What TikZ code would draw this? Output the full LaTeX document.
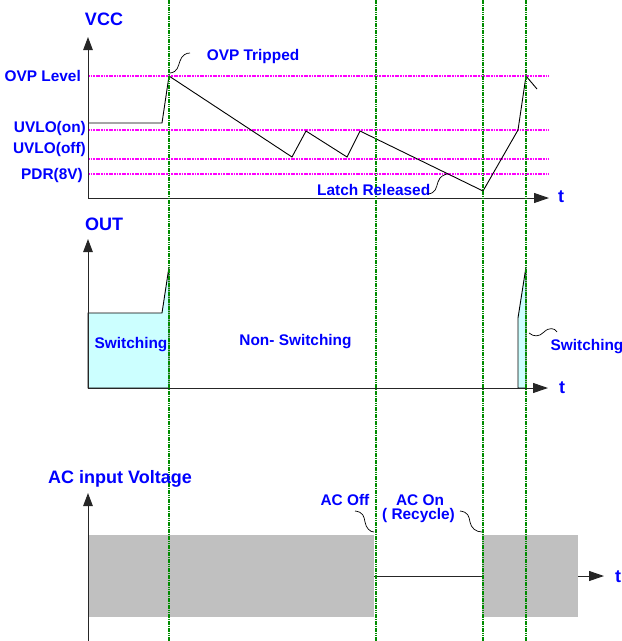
\documentclass[tikz,border=0pt]{standalone}
\usepackage{fontspec}
\setmainfont{Liberation Sans}
\usetikzlibrary{arrows.meta}
\definecolor{acgray}{RGB}{192,192,192}
\definecolor{swcyan}{RGB}{204,255,255}
\definecolor{tgreen}{RGB}{0,140,0}
\definecolor{lvlmag}{RGB}{255,0,255}
\definecolor{txtblue}{RGB}{0,0,255}
\begin{document}
\begin{tikzpicture}[x=1pt,y=-1pt,
  lbl/.style={font=\bfseries\fontsize{15.4}{15.4}\selectfont, text=txtblue, inner sep=0pt},
  ttl/.style={font=\bfseries\fontsize{18}{18}\selectfont, text=txtblue, inner sep=0pt},
  axisv/.style={draw=black!85, line width=1pt, -{Triangle[length=13pt,width=9.5pt]}},
  axish/.style={draw=black!85, line width=1pt, -{Triangle[length=15pt,width=10pt]}},
  lvl/.style={draw=lvlmag, line width=2.4pt, dash pattern=on 1.8pt off 0.8pt},
  tline/.style={draw=tgreen, line width=1.6pt, dash pattern=on 1.6pt off 0.7pt},
  sig/.style={draw=black, line width=0.9pt},
  callout/.style={draw=black, line width=0.7pt},
  swfill/.style={fill=swcyan, draw=black, line width=0.9pt},
  acfill/.style={fill=acgray, draw=none}
]
\useasboundingbox (0,0) rectangle (622,641);

% AC input blocks
\path[acfill] (88,535) rectangle (374,617);
\path[acfill] (482,535) rectangle (578,617);

% OUT switching areas
\draw[swfill] (88,388) -- (88,313) -- (162,313) -- (169,267) -- (169,388) -- cycle;
\draw[swfill] (518,388) -- (518,318) -- (526,267) -- (526,388) -- cycle;

% level lines
\draw[lvl] (88,76) -- (549,76);
\draw[lvl] (88,130) -- (549,130);
\draw[lvl] (88,159) -- (549,159);
\draw[lvl] (88,174) -- (549,174);

% VCC waveform
\draw[sig] (88,123) -- (162,123) -- (169,76) -- (292,157) -- (306,131) -- (347,157)
  -- (360,131) -- (483,191) -- (518,130) -- (526,76) -- (537,89);

% axes
\draw[axisv] (88,198) -- (88,37);
\draw[axish] (88,198) -- (549,198);
\draw[axisv] (88,388) -- (88,239);
\draw[axish] (88,388) -- (548,388);
\draw[axisv] (88,641) -- (88,493);
\draw[draw=black!85, line width=1pt] (374,576) -- (482,576);
\draw[axish] (578,576) -- (604,576);

% time markers
\foreach \xx in {169,376,483,526} \draw[tline] (\xx,0) -- (\xx,641);

% labels
\node[ttl, anchor=base] (vcc) at (104,25) {VCC};
\node[lbl, anchor=base east] (ovpl) at (81,81) {OVP Level};
\node[lbl, anchor=base east] (uvon) at (86,132) {UVLO(on)};
\node[lbl, anchor=base east] (uvoff) at (86,153) {UVLO(off)};
\node[lbl, anchor=base east] (pdr) at (83,179) {PDR(8V)};
\node[lbl, anchor=base] (ovpt) at (253,60) {OVP Tripped};
\node[lbl, anchor=base west] (latch) at (317,195) {Latch Released};
\node[ttl, anchor=base] (t1) at (561,202) {t};

\node[ttl, anchor=base] (out) at (104,230) {OUT};
\node[lbl, anchor=base] (sw1) at (131,348) {Switching};
\node[lbl, anchor=base] (nsw) at (295.5,345) {Non- Switching};
\node[lbl, anchor=base] (sw2) at (587,350) {Switching};
\node[ttl, anchor=base] (t2) at (562,393) {t};

\node[ttl, anchor=base] (acv) at (120,483) {AC input Voltage};
\node[lbl, anchor=base] (acoff) at (345,505) {AC Off};
\node[lbl, anchor=base] (acon) at (420,505) {AC On};
\node[lbl, anchor=base] (recyc) at (418.5,519) {( Recycle)};
\node[ttl, anchor=base] (t3) at (618,582) {t};

% callouts
\draw[callout] (170,73) .. controls (178,72) and (178,66) .. (180,61)
  .. controls (182,55) and (186,53) .. (190,53);
\draw[callout] (428,194) .. controls (436,193) and (436,188) .. (438,182)
  .. controls (440,176) and (444,175) .. (447,174);
\draw[callout] (529,333) .. controls (534,337) and (539,337) .. (544,332)
  .. controls (549,327) and (555,328) .. (557,332);
\draw[callout] (355,511) .. controls (363,512) and (364,516) .. (365,522)
  .. controls (366,528) and (370,532) .. (374,532);
\draw[callout] (460,511) .. controls (468,512) and (469,516) .. (470,522)
  .. controls (471,528) and (476,532) .. (482,532);
\end{tikzpicture}
\end{document}
